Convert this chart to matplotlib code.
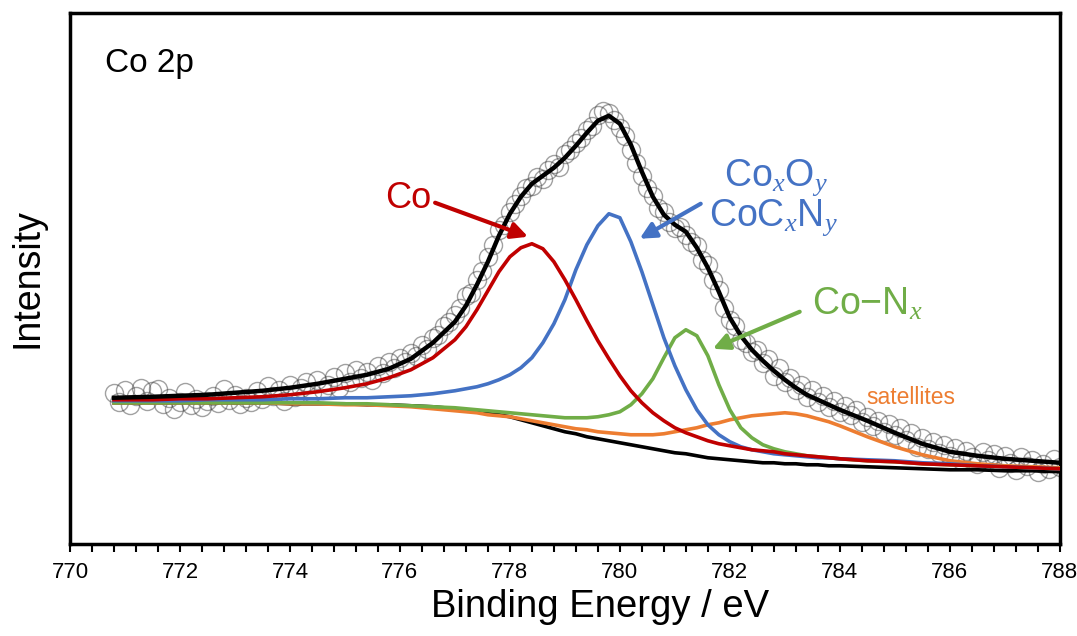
import numpy as np
import matplotlib
matplotlib.use("Agg")
import matplotlib.pyplot as plt
from matplotlib.ticker import MultipleLocator

plt.rcParams['font.family'] = ['Liberation Sans', 'DejaVu Sans']
plt.rcParams['mathtext.fontset'] = 'custom'
plt.rcParams['mathtext.rm'] = 'Liberation Sans'
plt.rcParams['mathtext.it'] = 'Liberation Serif:italic'

# energy grid of the fitted curves (eV)
fit_ev = [770.8, 771.5, 772.0, 772.5, 773.0, 773.5, 774.0, 774.5, 775.0,
          775.4, 775.8, 776.2, 776.6,
          777.0, 777.2, 777.4, 777.6, 777.8, 778.0, 778.2, 778.4, 778.6, 778.8,
          779.0, 779.2, 779.4, 779.6, 779.8, 780.0, 780.2, 780.4, 780.6, 780.8,
          781.0, 781.2, 781.4, 781.6, 781.8, 782.0, 782.2, 782.4, 782.6, 782.8,
          783.0, 783.2, 783.4, 783.6, 783.8, 784.0,
          784.5, 785.0, 785.5, 786.0, 786.5, 787.0, 787.5, 788.0]

background = [145, 145, 145, 145, 145, 145, 144, 144, 144, 143, 143, 142, 141,
              139, 138, 137, 135, 133, 131, 128, 125, 122, 119, 116, 114, 111,
              109, 107, 105, 103, 101, 99, 97, 95, 94, 92, 90, 89, 88, 87, 86,
              85, 85, 84, 84, 83, 83, 82, 82, 81, 80, 79, 78, 78, 77, 77, 76]

co_metal = [148, 148, 149, 149, 150, 151, 153, 156, 160, 164, 170, 178, 190,
            208, 221, 238, 257, 276, 291, 300, 304, 299, 286, 268, 248, 227,
            207, 189, 172, 157, 145, 135, 127, 120, 115, 111, 107, 104, 102,
            100, 98, 97, 96, 94, 93, 92, 91, 90, 89, 87, 86, 84, 83, 82, 81,
            80, 79]

co_oxide = [147, 147, 147, 148, 148, 148, 149, 149, 150, 150, 151, 152, 154,
            157, 159, 161, 164, 168, 173, 180, 190, 205, 224, 248, 278, 303,
            322, 334, 330, 306, 276, 243, 210, 182, 158, 138, 123, 113, 106,
            101, 98, 96, 94, 93, 92, 91, 90, 90, 89, 88, 87, 85, 84, 82, 81,
            80, 79]

co_nx = [145, 145, 145, 145, 145, 145, 145, 145, 144, 144, 143, 142, 141,
         140, 139, 138, 137, 136, 135, 134, 133, 132, 131, 130, 130, 130,
         131, 133, 136, 143, 154, 169, 190, 210, 218, 212, 192, 163, 138,
         120, 110, 103, 99, 96, 94, 92, 91, 90, 89, 87, 86, 84, 83, 82, 81,
         80, 79]

satellites = [145, 145, 145, 145, 145, 145, 144, 144, 143, 143, 142, 141, 139,
              137, 136, 135, 133, 132, 131, 129, 127, 125, 123, 121, 119, 118,
              116, 115, 114, 113, 113, 113, 114, 116, 118, 120, 123, 125, 128,
              130, 132, 133, 134, 135, 134, 132, 129, 126, 122, 111, 101, 93,
              87, 84, 82, 81, 80]

envelope = [150, 151, 152, 153, 155, 157, 160, 164, 169, 173, 179, 189, 205,
            226, 242, 263, 286, 312, 334, 351, 364, 372, 380, 390, 402, 415,
            427, 432, 424, 403, 376, 351, 333, 323, 316, 300, 280, 256, 230,
            212, 198, 187, 177, 168, 160, 153, 148, 143, 138, 127, 115, 104,
            96, 92, 89, 87, 85]

# measured points, 0.1 eV steps starting at 770.8 eV
scan_start = 770.8
scan_counts = [155, 146, 158, 143, 152, 160, 147, 157, 159, 144,
               150, 139, 146, 156, 143, 149, 141, 147, 152, 145,
               159, 148, 153, 144, 150, 146, 157, 149, 162, 152,
               158, 147, 163, 151, 160, 166, 155, 168, 158, 163,
               171, 160, 175, 166, 178, 170, 176, 168, 182, 175,
               186, 180, 190, 186, 195, 192, 203, 199, 210, 213,
               222, 226, 233, 240, 252, 255, 268, 277, 291, 303,
               318, 323, 336, 344, 352, 360, 362, 371, 369, 378,
               384, 381, 394, 398, 405, 410, 418, 422, 433, 437,
               435, 428, 420, 412, 398, 385, 372, 360, 352, 340,
               336, 326, 320, 321, 313, 306, 302, 288, 283, 268,
               258, 240, 228, 222, 208, 205, 196, 198, 185, 189,
               172, 180, 166, 170, 158, 163, 151, 158, 146, 152,
               141, 147, 136, 142, 133, 138, 126, 131, 122, 127,
               116, 124, 113, 120, 108, 115, 101, 110, 99, 106,
               95, 103, 92, 100, 88, 97, 91, 84, 96, 88,
               94, 80, 92, 85, 78, 91, 82, 88, 76, 84,
               79, 89, 81]

RED = '#C00000'
BLUE = '#4472C4'
GREEN = '#70AD47'
ORANGE = '#ED7D31'

scan_ev = scan_start + 0.1 * np.arange(len(scan_counts))

fig = plt.figure(figsize=(10.77, 6.36), dpi=100)
ax = fig.add_axes([0.065, 0.145, 0.919, 0.835])

ax.plot(scan_ev, scan_counts, 'o', ms=13, mfc='none', mec='#444444',
        mew=1.0, alpha=0.5, zorder=2)

ax.plot(fit_ev, background, color='black', lw=2.6, zorder=3)
ax.plot(fit_ev, satellites, color=ORANGE, lw=2.6, zorder=4)
ax.plot(fit_ev, co_nx, color=GREEN, lw=2.6, zorder=4)
ax.plot(fit_ev, co_oxide, color=BLUE, lw=2.6, zorder=5)
ax.plot(fit_ev, co_metal, color=RED, lw=2.6, zorder=6)
ax.plot(fit_ev, envelope, color='black', lw=3.2, zorder=7)

ax.set_xlim(770, 788)
ax.set_ylim(4, 535)
ax.xaxis.set_major_locator(MultipleLocator(2))
ax.xaxis.set_minor_locator(MultipleLocator(0.4))
ax.tick_params(axis='x', which='both', direction='out', length=6, width=1.5,
               labelsize=16, pad=7)
ax.set_yticks([])
for sp in ax.spines.values():
    sp.set_linewidth(2.5)

ax.set_xlabel('Binding Energy / eV', fontsize=27.5, labelpad=5)
ax.xaxis.set_label_coords(0.536, -0.085)
ax.set_ylabel('Intensity', fontsize=27, labelpad=18)

ax.text(0.035, 0.905, 'Co 2p', transform=ax.transAxes, fontsize=24,
        va='center', ha='left')


def pointer(start, end, color, lw=3, head=24):
    ax.annotate('', xy=end, xytext=start,
                arrowprops=dict(arrowstyle='-|>', color=color, lw=lw,
                                mutation_scale=head, shrinkA=0, shrinkB=0),
                zorder=8)


ax.text(776.15, 349, 'Co', fontsize=26, color=RED, ha='center', va='center')
pointer((776.64, 345), (778.33, 311), RED)

ax.text(782.84, 370, r'Co$_{\mathit{x}}$O$_{\mathit{y}}$', fontsize=27,
        color=BLUE, ha='center', va='center')
ax.text(782.8, 330, r'CoC$_{\mathit{x}}$N$_{\mathit{y}}$', fontsize=27,
        color=BLUE, ha='center', va='center')
pointer((781.47, 344), (780.36, 309), BLUE)

ax.text(784.5, 243, r'Co$-$N$_{\mathit{x}}$', fontsize=27, color=GREEN,
        ha='center', va='center')
pointer((783.27, 236), (781.69, 199), GREEN)

ax.text(785.3, 150, 'satellites', fontsize=16.5, color=ORANGE,
        ha='center', va='center')

fig.savefig('out.png', dpi=100)
